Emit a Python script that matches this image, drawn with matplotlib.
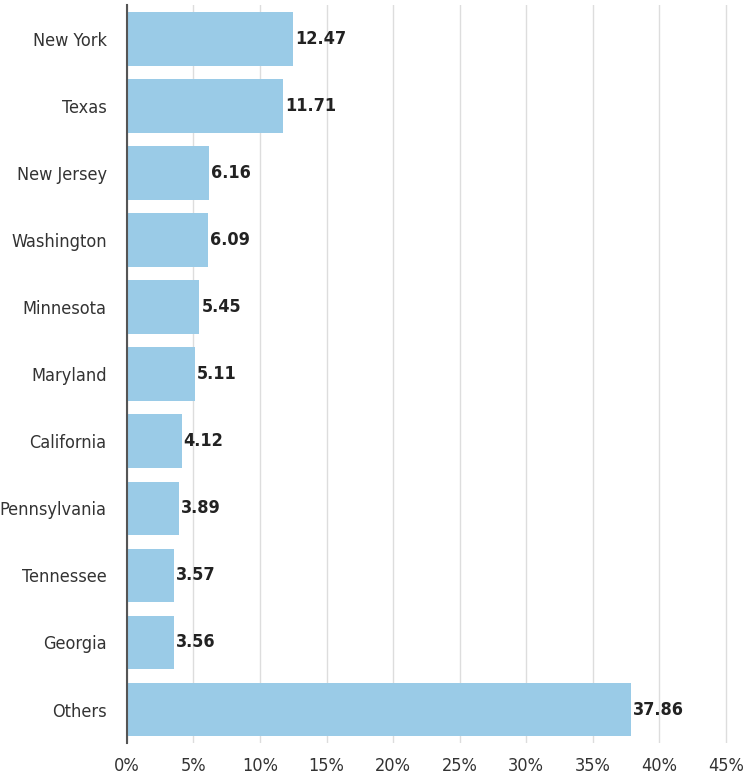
#!/usr/bin/env python3
"""Share by state, horizontal bar chart."""

import matplotlib

matplotlib.use("Agg")
import matplotlib.pyplot as plt
from matplotlib.ticker import FuncFormatter

STATES = [
    "New York",
    "Texas",
    "New Jersey",
    "Washington",
    "Minnesota",
    "Maryland",
    "California",
    "Pennsylvania",
    "Tennessee",
    "Georgia",
    "Others",
]
SHARES = [12.47, 11.71, 6.16, 6.09, 5.45, 5.11, 4.12, 3.89, 3.57, 3.56, 37.86]
X_TICKS = [0, 5, 10, 15, 20, 25, 30, 35, 40, 45]

BAR_COLOR = "#9ACBE7"
TEXT_COLOR = "#333333"

plt.rcParams.update(
    {
        "font.family": ["DejaVu Sans"],
        "font.stretch": "condensed",
        "font.size": 13,
    }
)

fig = plt.figure(figsize=(7.46, 7.74), dpi=100)
ax = fig.add_axes([0.170, 0.040, 0.812, 0.953])

y = list(range(len(STATES)))
ax.barh(y, SHARES, height=0.8, color=BAR_COLOR, zorder=2)
for pos, value in zip(y, SHARES):
    ax.text(value + 0.15, pos, f"{value:.2f}", va="center", ha="left",
            fontsize=13, fontweight="bold", color="#222222", zorder=3)

ax.set_yticks(y, STATES)
ax.set_ylim(len(STATES) - 0.5, -0.5)
ax.set_xlim(0, 45.5)
ax.set_xticks(X_TICKS)
ax.xaxis.set_major_formatter(FuncFormatter(lambda v, _: f"{v:.0f}%"))

ax.grid(axis="x", color="#DDDDDD", linewidth=1.0, zorder=0)
ax.set_axisbelow(True)
for side in ["top", "right", "bottom"]:
    ax.spines[side].set_visible(False)
ax.spines["left"].set_color("#555555")
ax.spines["left"].set_linewidth(1.5)
ax.tick_params(axis="both", length=0, colors=TEXT_COLOR, labelsize=13)
ax.tick_params(axis="y", pad=14.5)
ax.tick_params(axis="x", pad=10)

fig.savefig("out.png", dpi=100)
